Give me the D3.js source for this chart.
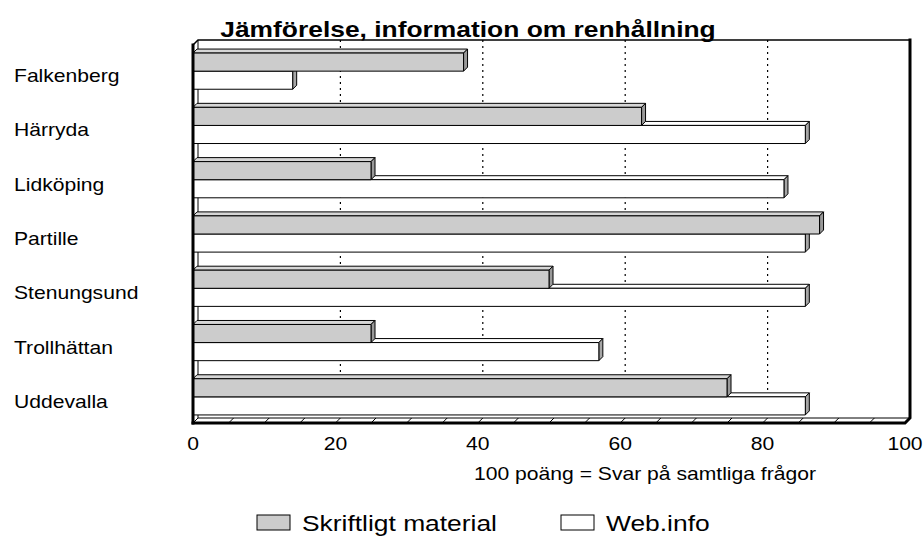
<!DOCTYPE html>
<html>
<head>
<meta charset="utf-8">
<script src="https://cdn.jsdelivr.net/npm/d3@7"></script>
<style>
  body { margin: 0; background: #fff; }
  text { font-family: "Liberation Sans", Arial, sans-serif; fill: #000; }
</style>
</head>
<body>
<div id="chart"></div>
<script>
// jämförelse – 3D-liknande liggande staplar

const categories = ["Falkenberg", "Härryda", "Lidköping", "Partille", "Stenungsund", "Trollhättan", "Uddevalla"];
const seriesNames = ["Skriftligt material", "Web.info"];
const skriftligt = [38, 63, 25, 88, 50, 25, 75];
const webinfo = [14, 86, 83, 86, 86, 57, 86];
const tickValues = [0, 20, 40, 60, 80, 100];
const title = "Jämförelse, information om renhållning";
const xTitle = "100 poäng = Svar på samtliga frågor";

const W = 924, H = 539;
const SX = 1.2;  // bilden är horisontellt utdragen
const D = 5;     // djup för väggar
const d = 4;     // djup för staplar

const colors = { front: ["#cccccc", "#ffffff"], top: ["#d6d6d6", "#ffffff"], side: ["#999999", "#a6a6a6"] };

const svg = d3.select("#chart").append("svg").attr("width", W).attr("height", H);

const x = d3.scaleLinear().domain([0, 100]).range([193, 905]);
const y = d3.scaleBand().domain(categories).range([44, 424]).paddingInner(1 / 3).paddingOuter(1 / 6);
const ySub = d3.scaleBand().domain([0, 1]).range([0, y.bandwidth()]);

const yTop = 40, yBottom = 423;

function txt(g, str, tx, ty, size, anchor, weight) {
  return g.append("text")
    .attr("transform", `translate(${tx},${ty}) scale(${SX},1)`)
    .attr("font-size", size)
    .attr("font-weight", weight || "normal")
    .attr("text-anchor", anchor || "start")
    .text(str);
}

// bakvägg
svg.append("rect")
  .attr("x", x(0) + D).attr("y", yTop)
  .attr("width", x(100) - x(0)).attr("height", yBottom - D - yTop)
  .attr("fill", "#fff");

// stödlinjer på bakväggen
svg.append("g").selectAll("line")
  .data(tickValues.filter((v) => v > 0 && v < 100))
  .join("line")
  .attr("x1", (v) => x(v) + D).attr("x2", (v) => x(v) + D)
  .attr("y1", yTop).attr("y2", yBottom - D)
  .attr("stroke", "#000").attr("stroke-width", 1.2)
  .attr("stroke-dasharray", "2,4");

// golv
svg.append("path")
  .attr("d", `M${x(0)},${yBottom}L${x(0) + D},${yBottom - D}L${x(100) + D},${yBottom - D}L${x(100)},${yBottom}Z`)
  .attr("fill", "#fff").attr("stroke", "#000").attr("stroke-width", 1);
svg.append("g").selectAll("line")
  .data(d3.range(0, 101, 5))
  .join("line")
  .attr("x1", (v) => x(v)).attr("y1", yBottom)
  .attr("x2", (v) => x(v) + D).attr("y2", yBottom - D)
  .attr("stroke", "#000").attr("stroke-width", 1);

// vänster vägg
svg.append("path")
  .attr("d", `M${x(0)},${yTop + D}L${x(0) + D},${yTop}L${x(0) + D},${yBottom - D}L${x(0)},${yBottom}Z`)
  .attr("fill", "#fff").attr("stroke", "#000").attr("stroke-width", 1);

// staplar
const rows = categories.map((c, i) => ({ cat: c, vals: [skriftligt[i], webinfo[i]] }));
const gBars = svg.append("g");
rows.forEach((r) => {
  // Web.info först, sedan skriftligt ovanpå
  [1, 0].forEach((s) => {
    const v = r.vals[s];
    const y0 = y(r.cat) + ySub(s);
    const h = ySub.bandwidth();
    const x0 = x(0), x1 = x(v);
    const g = gBars.append("g").attr("stroke", "#000").attr("stroke-width", 1).attr("stroke-linejoin", "round");
    g.append("path")
      .attr("d", `M${x0},${y0}L${x0 + d},${y0 - d}L${x1 + d},${y0 - d}L${x1},${y0}Z`)
      .attr("fill", colors.top[s]);
    g.append("path")
      .attr("d", `M${x1},${y0}L${x1 + d},${y0 - d}L${x1 + d},${y0 + h - d}L${x1},${y0 + h}Z`)
      .attr("fill", colors.side[s]);
    g.append("rect")
      .attr("x", x0).attr("y", y0).attr("width", x1 - x0).attr("height", h)
      .attr("fill", colors.front[s]);
  });
});

// ram
const frame = svg.append("g").attr("stroke", "#000").attr("fill", "none").attr("stroke-linecap", "square");
frame.append("path").attr("d", `M${x(0)},${yTop + D}L${x(0) + D},${yTop}L${x(100) + D},${yTop}`).attr("stroke-width", 1.5);
frame.append("path").attr("d", `M${x(100) + D},${yTop}L${x(100) + D},${yBottom - D}L${x(100)},${yBottom}L${x(0)},${yBottom}`).attr("stroke-width", 3);
frame.append("line").attr("x1", x(0)).attr("x2", x(0)).attr("y1", yTop + D).attr("y2", yBottom).attr("stroke-width", 3);

// kategorietiketter
const gy = svg.append("g");
categories.forEach((c) => {
  txt(gy, c, 14, y(c) + y.bandwidth() / 2 + 11, 17.6);
});

// x-axelns etiketter
const gx = svg.append("g");
tickValues.forEach((v) => txt(gx, v, x(v), 450, 17.6, "middle"));
txt(gx, xTitle, 645, 480, 17.6, "middle");

// rubrik
txt(svg, title, 468, 37, 22, "middle", "bold");

// förklaring
const legend = svg.append("g");
const legX = [257, 561];
seriesNames.forEach((n, i) => {
  legend.append("rect")
    .attr("x", legX[i]).attr("y", 515).attr("width", 33).attr("height", 15)
    .attr("fill", colors.front[i]).attr("stroke", "#000").attr("stroke-width", 1);
  txt(legend, n, legX[i] + 45, 531, 22);
});
</script>
</body>
</html>
